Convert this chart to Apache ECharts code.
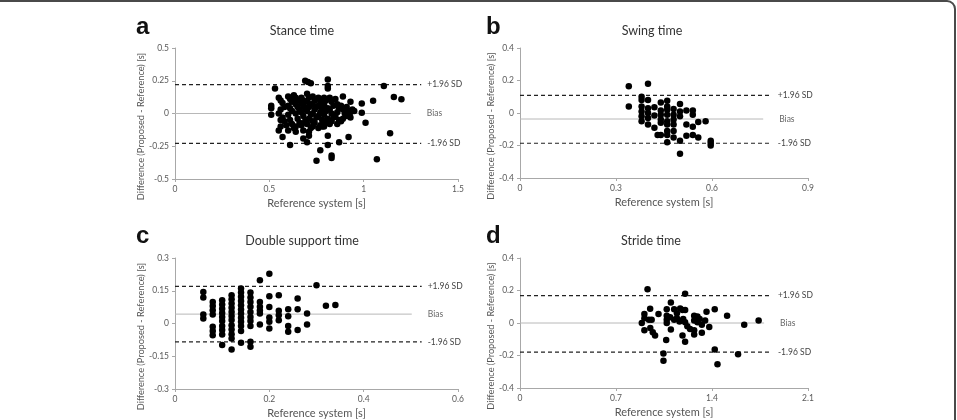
<!DOCTYPE html>
<html>
<head>
  <meta charset="utf-8" />
  <title>Bland-Altman plots</title>
  <script src="https://cdn.jsdelivr.net/npm/echarts@6/dist/echarts.min.js"></script>
  <style>
    html, body { margin: 0; padding: 0; background: #fff; }
  </style>
</head>
<body>
  <div id="main" style="width: 957px;height:420px;"></div>
  <script type="text/javascript">
    // four Bland-Altman panels

    var stancePts = [
      [0.53, 0.19], [0.705, 0.24], [0.69, 0.25], [0.72, 0.23], [0.81, 0.26], [0.81, 0.21], [0.81, 0.19],
      [1.107, 0.21], [1.16, 0.126], [1.20, 0.109], [1.05, 0.097], [0.99, 0.076], [0.99, 0.005], [1.01, -0.07],
      [1.14, -0.15], [1.07, -0.35], [0.92, -0.18], [0.87, -0.22], [0.81, -0.17], [0.81, -0.24], [0.77, -0.28],
      [0.75, -0.36], [0.83, -0.32], [0.83, -0.34], [0.61, -0.24], [0.57, -0.18], [0.55, -0.13], [0.68, -0.19],
      [0.70, -0.22], [0.71, -0.17], [0.51, 0.06], [0.51, 0.04], [0.51, -0.01], [0.89, 0.13], [0.93, 0.09],
      [0.95, 0.02], [0.93, -0.03], [0.88, -0.06], [0.86, -0.08], [0.83, -0.06], [0.78, -0.10], [0.73, -0.06],
      [0.64, -0.14], [0.60, -0.13], [0.56, -0.05],
      [0.55, 0.12], [0.56, 0.10], [0.57, 0.08], [0.58, 0.05], [0.56, 0.03], [0.55, 0.00], [0.57, -0.03], [0.58, -0.06], [0.59, -0.09], [0.56, -0.10],
      [0.60, 0.13], [0.61, 0.11], [0.62, 0.09], [0.60, 0.06], [0.61, 0.04], [0.62, 0.02], [0.60, -0.01], [0.61, -0.05], [0.62, -0.08], [0.63, -0.11],
      [0.63, 0.14], [0.64, 0.12], [0.65, 0.10], [0.64, 0.07], [0.65, 0.05], [0.66, 0.03], [0.64, 0.00], [0.65, -0.04], [0.66, -0.07], [0.64, -0.10],
      [0.67, 0.12], [0.68, 0.10], [0.67, 0.08], [0.68, 0.06], [0.69, 0.04], [0.67, 0.01], [0.68, -0.02], [0.69, -0.06], [0.67, -0.09], [0.68, -0.13],
      [0.70, 0.15], [0.71, 0.12], [0.70, 0.09], [0.72, 0.07], [0.71, 0.05], [0.70, 0.02], [0.72, -0.01], [0.71, -0.04], [0.70, -0.08], [0.72, -0.11], [0.71, -0.14],
      [0.73, 0.13], [0.74, 0.10], [0.73, 0.07], [0.75, 0.05], [0.74, 0.03], [0.73, 0.00], [0.75, -0.03], [0.74, -0.07], [0.73, -0.10],
      [0.76, 0.12], [0.77, 0.09], [0.76, 0.06], [0.78, 0.04], [0.77, 0.01], [0.76, -0.02], [0.78, -0.05], [0.77, -0.09], [0.76, -0.11],
      [0.79, 0.12], [0.80, 0.10], [0.79, 0.07], [0.81, 0.04], [0.80, 0.02], [0.79, -0.01], [0.81, -0.04], [0.80, -0.07], [0.79, -0.10],
      [0.82, 0.12], [0.83, 0.09], [0.84, 0.06], [0.82, 0.03], [0.83, 0.00], [0.84, -0.03], [0.82, -0.08],
      [0.85, 0.11], [0.86, 0.07], [0.87, 0.04], [0.86, 0.01], [0.85, -0.02], [0.87, -0.05],
      [0.88, 0.06], [0.89, 0.03], [0.90, 0.00], [0.89, -0.04], [0.91, 0.05], [0.92, 0.02], [0.91, -0.02], [0.93, 0.01], [0.94, 0.03]
    ];

    var swingPts = [
      [0.34, 0.165], [0.34, 0.04], [0.40, 0.18],
      [0.38, 0.10], [0.38, 0.08], [0.38, 0.04], [0.38, 0.01], [0.38, -0.02], [0.38, -0.05],
      [0.40, 0.08], [0.40, 0.03], [0.40, 0.0], [0.40, -0.03], [0.40, -0.07],
      [0.42, 0.035], [0.42, -0.015], [0.42, -0.09],
      [0.44, 0.065], [0.44, 0.015], [0.44, -0.01], [0.44, -0.04], [0.44, -0.06], [0.44, -0.135],
      [0.46, 0.075], [0.46, 0.04], [0.46, 0.02], [0.46, -0.01], [0.46, -0.05], [0.46, -0.07], [0.46, -0.11], [0.46, -0.135], [0.46, -0.18],
      [0.48, 0.025], [0.48, -0.01], [0.48, -0.04], [0.48, -0.07], [0.48, -0.11], [0.48, -0.15],
      [0.50, 0.055], [0.50, 0.01], [0.50, -0.02], [0.50, -0.17], [0.50, -0.25],
      [0.52, 0.015], [0.52, -0.07], [0.52, -0.14],
      [0.54, 0.015], [0.54, -0.01], [0.54, -0.085], [0.54, -0.135],
      [0.557, -0.055], [0.58, -0.05], [0.557, -0.15], [0.43, -0.135],
      [0.596, -0.17], [0.596, -0.185], [0.596, -0.2]
    ];

    var doublePts = [
      [0.06, 0.144], [0.06, 0.119], [0.06, 0.041], [0.06, 0.023],
      [0.08, 0.098], [0.08, 0.080], [0.08, 0.061], [0.08, 0.041], [0.08, -0.015], [0.08, -0.034], [0.08, -0.054],
      [0.10, 0.107], [0.10, 0.087], [0.10, 0.068], [0.10, 0.048], [0.10, 0.030], [0.10, 0.011], [0.10, -0.012], [0.10, -0.030], [0.10, -0.050], [0.10, -0.099],
      [0.12, 0.129], [0.12, 0.111], [0.12, 0.092], [0.12, 0.072], [0.12, 0.053], [0.12, 0.034], [0.12, 0.016], [0.12, -0.008], [0.12, -0.028], [0.12, -0.049], [0.12, -0.069], [0.12, -0.119],
      [0.14, 0.160], [0.14, 0.142], [0.14, 0.122], [0.14, 0.103], [0.14, 0.084], [0.14, 0.064], [0.14, 0.046], [0.14, 0.026], [0.14, 0.008], [0.14, -0.012], [0.14, -0.034], [0.14, -0.088],
      [0.16, 0.142], [0.16, 0.119], [0.16, 0.099], [0.16, 0.077], [0.16, 0.053], [0.16, 0.030], [0.16, 0.011], [0.16, -0.012], [0.16, -0.084], [0.16, -0.107],
      [0.18, 0.198], [0.18, 0.099], [0.18, 0.077], [0.18, 0.060], [0.18, 0.046], [0.18, -0.005],
      [0.20, 0.228], [0.20, 0.125], [0.20, 0.076], [0.20, 0.027], [0.20, 0.008], [0.20, -0.023],
      [0.22, 0.129], [0.22, 0.058], [0.22, 0.038], [0.22, 0.015],
      [0.24, 0.065], [0.24, 0.033], [0.24, -0.012], [0.24, -0.038],
      [0.26, 0.114], [0.26, 0.065], [0.26, -0.030],
      [0.28, 0.046], [0.28, -0.005],
      [0.30, 0.175], [0.32, 0.081], [0.34, 0.085]
    ];

    var stridePts = [
      [0.93, 0.207], [0.888, 0.0], [0.907, 0.055], [0.907, 0.03], [0.949, 0.087], [0.94, 0.02], [0.96, 0.02],
      [0.907, -0.045], [0.95, -0.03], [0.968, -0.057], [0.985, -0.077], [1.01, 0.055], [1.066, -0.105],
      [1.046, -0.187], [1.046, -0.233], [1.07, 0.085], [1.07, 0.045], [1.07, 0.02], [1.07, 0.0],
      [1.10, 0.126], [1.10, -0.04], [1.124, 0.085], [1.144, 0.06], [1.168, 0.09], [1.185, 0.08], [1.19, 0.025],
      [1.185, -0.077], [1.204, 0.18], [1.204, 0.08], [1.204, 0.005], [1.204, -0.116], [1.22, -0.02], [1.24, -0.037],
      [1.27, 0.045], [1.27, 0.015], [1.27, -0.045], [1.27, -0.07], [1.294, 0.04], [1.294, 0.004], [1.31, 0.024],
      [1.326, -0.01], [1.326, -0.06], [1.35, 0.016], [1.36, 0.07], [1.38, -0.025], [1.42, 0.085], [1.42, -0.163],
      [1.44, -0.254], [1.51, 0.045], [1.59, -0.193], [1.635, -0.01], [1.74, 0.016],
      [1.124, 0.02], [1.144, 0.03], [1.163, 0.01], [1.095, 0.036]
    ];

    // [upper LoA, bias, lower LoA]
    var stanceLimits = [0.221, 0, -0.228];
    var swingLimits = [0.108, -0.037, -0.186];
    var doubleLimits = [0.170, 0.043, -0.084];
    var strideLimits = [0.169, 0, -0.179];

    // x extent of the limit lines: [dashed end, bias end]
    var stanceLineEnd = [1.305, 1.25];
    var swingLineEnd = [0.787, 0.76];
    var doubleLineEnd = [0.523, 0.502];
    var strideLineEnd = [1.837, 1.78];

    var titles = ['Stance time', 'Swing time', 'Double support time', 'Stride time'];
    var letters = ['a', 'b', 'c', 'd'];

    var xRanges = [[0, 1.5, 0.5], [0, 0.9, 0.3], [0, 0.6, 0.2], [0, 2.1, 0.7]];
    var yRanges = [[-0.5, 0.5, 0.25], [-0.4, 0.4, 0.2], [-0.3, 0.3, 0.15], [-0.4, 0.4, 0.2]];

    var panels = [
      { pts: stancePts, lim: stanceLimits, end: stanceLineEnd },
      { pts: swingPts, lim: swingLimits, end: swingLineEnd },
      { pts: doublePts, lim: doubleLimits, end: doubleLineEnd },
      { pts: stridePts, lim: strideLimits, end: strideLineEnd }
    ];

    var FONT = 'Lato';
    var grids = [
      { left: 175, top: 48, width: 283, height: 131 },
      { left: 520, top: 48, width: 288, height: 130 },
      { left: 175, top: 258, width: 283, height: 131 },
      { left: 520, top: 258, width: 288, height: 130 }
    ];
    var titlePos = [[297, 19], [647, 19], [297, 229], [646, 229]];
    var letterPos = [[131, 10], [481, 10], [131, 219], [481, 219]];
    var yNameGap = [26, 21, 26, 21];

    var myChart = echarts.init(document.getElementById('main'));

    var xAxes = [], yAxes = [], series = [], title = [];

    xRanges.forEach(function (r, i) {
      xAxes.push({
        gridIndex: i, type: 'value', min: r[0], max: r[1], interval: r[2],
        name: 'Reference system [s]', nameLocation: 'middle', nameGap: 19,
        nameTextStyle: { fontFamily: FONT, fontSize: 11, color: '#555' },
        axisLine: { onZero: false, lineStyle: { color: '#a8a8a8', width: 1 } },
        axisTick: { show: true, length: 3, lineStyle: { color: '#a8a8a8' } },
        axisLabel: { fontFamily: FONT, fontSize: 8.5, color: '#5a5a5a', margin: 6 },
        splitLine: { show: false }
      });
    });

    yRanges.forEach(function (r, i) {
      yAxes.push({
        gridIndex: i, type: 'value', min: r[0], max: r[1], interval: r[2],
        name: 'Difference (Proposed - Reference) [s]', nameLocation: 'middle', nameGap: yNameGap[i],
        nameTextStyle: { fontFamily: FONT, fontSize: 9.2, color: '#555', padding: [0, 26, 0, 0] },
        axisLine: { show: true, onZero: false, lineStyle: { color: '#a8a8a8', width: 1 } },
        axisTick: { show: true, length: 3, lineStyle: { color: '#a8a8a8' } },
        axisLabel: { fontFamily: FONT, fontSize: 8.5, color: '#5a5a5a', margin: 6 },
        splitLine: { show: false }
      });
    });

    panels.forEach(function (p, i) {
      var labels = ['+1.96 SD', 'Bias', '-1.96 SD'];
      p.lim.forEach(function (v, k) {
        var isBias = k === 1;
        var xe = isBias ? p.end[1] : p.end[0];
        series.push({
          type: 'line', xAxisIndex: i, yAxisIndex: i, silent: true,
          symbol: 'none', z: isBias ? 1 : 2,
          data: [[0, v], [xe, v]],
          lineStyle: isBias
            ? { color: '#b8b8b8', width: 1, type: 'solid' }
            : { color: '#222', width: 1.2, type: [4, 3] },
          endLabel: {
            show: true, formatter: labels[k], distance: isBias ? 16 : 6,
            fontFamily: FONT, fontSize: 8.5, color: isBias ? '#666' : '#444'
          }
        });
      });
      series.push({
        type: 'scatter', xAxisIndex: i, yAxisIndex: i, z: 3,
        symbol: 'circle', symbolSize: 6.5,
        itemStyle: { color: '#000', opacity: 1 },
        data: p.pts
      });
      title.push({
        text: titles[i], left: titlePos[i][0], top: titlePos[i][1], textAlign: 'center',
        textStyle: { fontFamily: FONT, fontSize: 12.5, fontWeight: 'normal', color: '#333' }
      });
      title.push({
        text: letters[i], left: letterPos[i][0], top: letterPos[i][1],
        textStyle: { fontFamily: 'Liberation Sans', fontSize: 24, fontWeight: 'bold', color: '#111' }
      });
    });

    var option = {
      animation: false,
      backgroundColor: '#fff',
      title: title,
      grid: grids,
      xAxis: xAxes,
      yAxis: yAxes,
      series: series,
      graphic: [{
        type: 'rect', silent: true,
        shape: { x: -20, y: 1, width: 975, height: 450, r: 8 },
        style: { fill: 'none', stroke: '#4a4a4a', lineWidth: 2 }
      }]
    };

    option && myChart.setOption(option);
  </script>
</body>
</html>
